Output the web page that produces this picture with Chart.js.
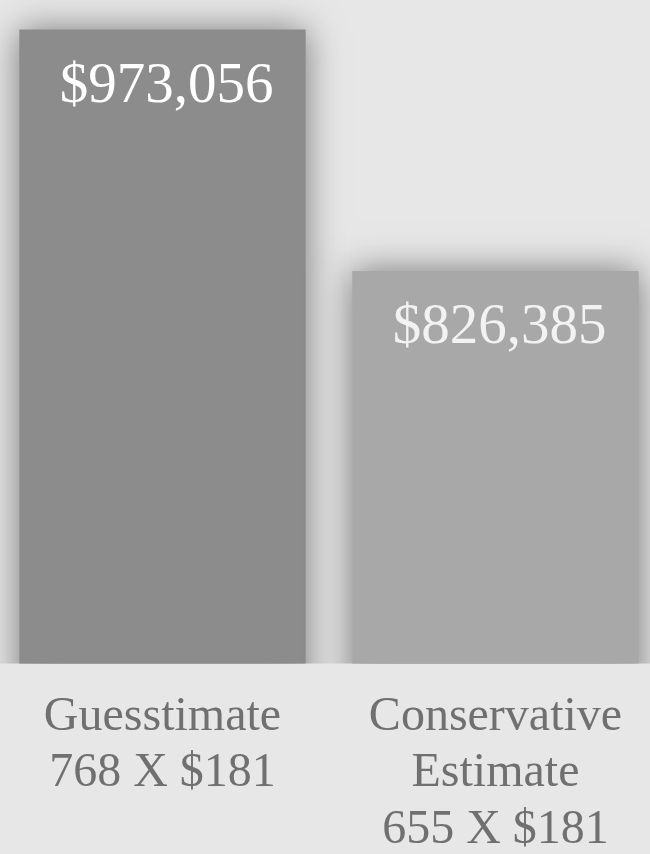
<!DOCTYPE html>
<html>
<head>
<meta charset="utf-8">
<script src="https://cdn.jsdelivr.net/npm/chart.js@4.4.1/dist/chart.umd.min.js"></script>
<style>
  html, body { margin: 0; padding: 0; background: #e7e7e7; overflow: hidden; }
  #wrap { width: 666px; height: 854px; margin-left: -4px; }
</style>
</head>
<body>
<div id="wrap"><canvas id="estimate-chart"></canvas></div>
<script>
// chart values
const categories = [
  ['Guesstimate', '768 X $181'],
  ['Conservative', 'Estimate', '655 X $181']
];
const totals = [973056, 826385];
const totalLabels = ['$973,056', '$826,385'];
const barColors = ['#8c8c8c', '#a8a8a8'];

// soft fuzzy edges round the bars
const softEdges = {
  id: 'softEdges',
  beforeDatasetDraw(chart) {
    const ctx = chart.ctx;
    ctx.save();
    ctx.shadowColor = 'rgba(120,120,120,1)';
    ctx.shadowBlur = 34;
  },
  afterDatasetDraw(chart) {
    chart.ctx.restore();
  }
};

// value text inside the top of each bar
const valueText = {
  id: 'valueText',
  afterDatasetsDraw(chart) {
    const ctx = chart.ctx;
    const meta = chart.getDatasetMeta(0);
    ctx.save();
    ctx.font = '57px "Liberation Serif", serif';
    ctx.textAlign = 'center';
    ctx.textBaseline = 'alphabetic';
    meta.data.forEach((bar, i) => {
      ctx.fillStyle = i === 0 ? '#ffffff' : '#f2f2f2';
      ctx.fillText(totalLabels[i], bar.x + 4, bar.y + 72);
    });
    ctx.restore();
  }
};

new Chart(document.getElementById('estimate-chart'), {
  type: 'bar',
  data: {
    labels: categories,
    datasets: [{
      data: totals,
      backgroundColor: barColors,
      borderWidth: 0,
      barPercentage: 0.86,
      categoryPercentage: 1
    }]
  },
  options: {
    responsive: true,
    maintainAspectRatio: false,
    animation: false,
    layout: { padding: { top: 0, left: 0, right: 0, bottom: -22 } },
    plugins: {
      legend: { display: false },
      tooltip: { enabled: false }
    },
    scales: {
      x: {
        grid: { display: false },
        border: { display: false },
        ticks: {
          color: '#707070',
          padding: 18,
          font: { family: '"Liberation Serif", serif', size: 48, lineHeight: 1.17 }
        }
      },
      y: {
        display: false,
        min: 588000,
        max: 991000
      }
    }
  },
  plugins: [softEdges, valueText]
});
</script>
</body>
</html>
